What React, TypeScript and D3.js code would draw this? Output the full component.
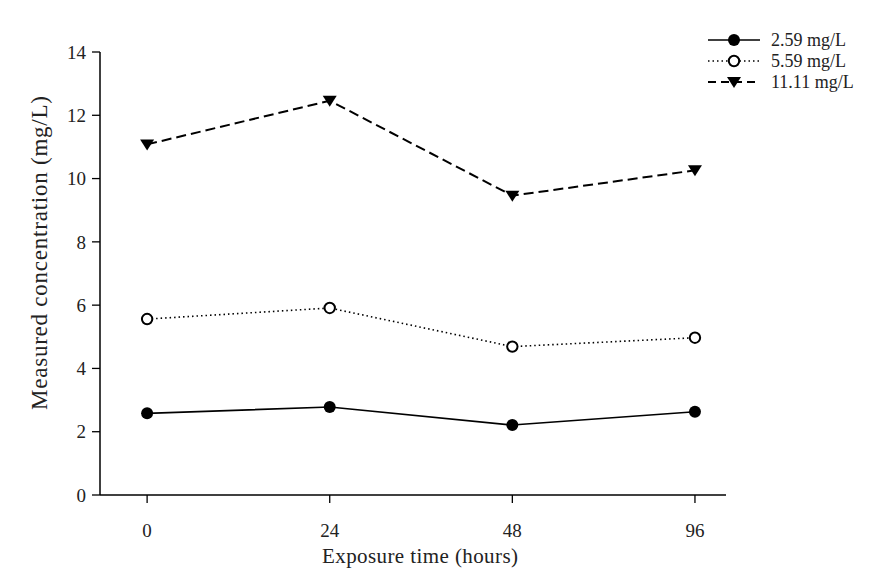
import React from "react";
import * as d3 from "d3";

const categories = ["0", "24", "48", "96"];
const yTicks = [0, 2, 4, 6, 8, 10, 12, 14];
const seriesNames = ["2.59 mg/L", "5.59 mg/L", "11.11 mg/L"];
const low = [2.58, 2.78, 2.21, 2.63];
const mid = [5.56, 5.91, 4.69, 4.97];
const high = [11.08, 12.46, 9.46, 10.26];

const W = 884;
const H = 580;
const font = "'Liberation Serif', 'Times New Roman', serif";

type Kind = "filled" | "open" | "tri";

function Marker({ x, y, kind }: { x: number; y: number; kind: Kind }) {
  if (kind === "filled") return <circle cx={x} cy={y} r={6} fill="#000" />;
  if (kind === "open")
    return <circle cx={x} cy={y} r={5.2} fill="#fff" stroke="#000" strokeWidth={2} />;
  const p = d3.path();
  p.moveTo(x - 7, y - 5);
  p.lineTo(x + 7, y - 5);
  p.lineTo(x, y + 6);
  p.closePath();
  return <path d={p.toString()} fill="#000" />;
}

export default function App() {
  const x = d3.scaleLinear().domain([-0.258, 3.17]).range([100, 726]);
  const y = d3.scaleLinear().domain([0, 14]).range([495, 52]);
  const series: { name: string; values: number[]; kind: Kind; dash: string; sw: number }[] = [
    { name: seriesNames[0], values: low, kind: "filled", dash: "", sw: 1.6 },
    { name: seriesNames[1], values: mid, kind: "open", dash: "1.5 3", sw: 1.6 },
    { name: seriesNames[2], values: high, kind: "tri", dash: "10 5", sw: 2 },
  ];
  const line = d3
    .line<number>()
    .x((_, i) => x(i))
    .y((d) => y(d));

  return (
    <svg width={W} height={H} style={{ position: "absolute", left: 0, top: 0, background: "#fff" }}>
      <rect x={0} y={0} width={W} height={H} fill="#fff" />
      {/* axes */}
      <line x1={100} x2={100} y1={y(14)} y2={y(0)} stroke="#000" strokeWidth={1.5} />
      <line x1={100} x2={726} y1={y(0)} y2={y(0)} stroke="#000" strokeWidth={1.5} />
      {yTicks.map((t) => (
        <g key={t}>
          <line x1={92} x2={100} y1={y(t)} y2={y(t)} stroke="#000" strokeWidth={1.3} />
          <text x={86} y={y(t)} dy="0.35em" textAnchor="end" fontFamily={font} fontSize={19} fill="#222">
            {t}
          </text>
        </g>
      ))}
      {categories.map((c, i) => (
        <g key={c}>
          <line x1={x(i)} x2={x(i)} y1={y(0)} y2={y(0) + 8} stroke="#000" strokeWidth={1.3} />
          <text x={x(i)} y={537} textAnchor="middle" fontFamily={font} fontSize={19} fill="#222">
            {c}
          </text>
        </g>
      ))}
      <text x={420} y={563} textAnchor="middle" fontFamily={font} fontSize={21} textLength={196} fill="#222">
        Exposure time (hours)
      </text>
      <text
        transform={`translate(47,${253}) rotate(-90)`}
        textAnchor="middle"
        fontFamily={font}
        fontSize={23}
        textLength={314}
        fill="#222"
      >
        Measured concentration (mg/L)
      </text>
      {/* series */}
      {series.map((s) => (
        <g key={s.name}>
          <path d={line(s.values) || ""} fill="none" stroke="#000" strokeWidth={s.sw} strokeDasharray={s.dash || undefined} />
          {s.values.map((v, i) => (
            <Marker key={i} x={x(i)} y={y(v)} kind={s.kind} />
          ))}
        </g>
      ))}
      {/* legend */}
      {series.map((s, i) => {
        const ly = 40 + i * 21;
        return (
          <g key={s.name}>
            <line x1={708} x2={760} y1={ly} y2={ly} stroke="#000" strokeWidth={s.sw} strokeDasharray={s.dash ? (s.kind === "open" ? "1.5 3" : "8 5") : undefined} />
            <Marker x={734} y={ly} kind={s.kind} />
            <text x={771} y={ly} dy="0.35em" fontFamily={font} fontSize={18} fill="#222">
              {s.name}
            </text>
          </g>
        );
      })}
    </svg>
  );
}
